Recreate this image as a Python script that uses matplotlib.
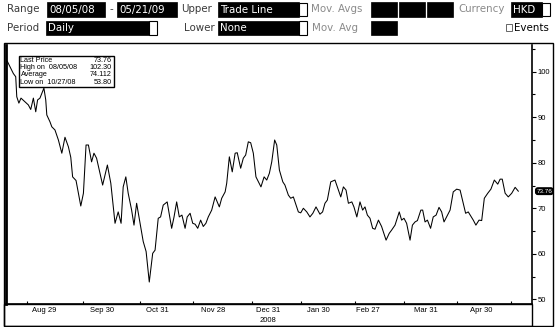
import matplotlib
matplotlib.use('Agg')
import matplotlib.pyplot as plt
from matplotlib.patches import Rectangle

W, H = 555, 327

# trading days after 08/05/08 and closing price (HKD)
day = [0.0, 2.3, 3.2, 3.6, 4.4, 5.2, 6.7, 8.0, 8.9, 9.9, 10.8, 11.5, 12.4, 13.9, 14.6,
       15.0, 16.2, 16.9, 18.1, 19.4, 20.7, 21.9, 23.2, 24.1, 24.8, 26.1, 27.0, 27.9,
       28.9, 29.9, 30.8, 32.0, 32.9, 33.9, 36.2, 38.0, 39.3, 40.9, 42.1, 43.2, 44.0,
       45.0, 45.9, 47.2, 48.1, 49.1, 50.4, 51.6, 52.7, 53.9, 55.2, 56.1, 57.3, 58.2,
       59.2, 60.7, 62.4, 63.3, 64.3, 65.3, 66.3, 67.5, 68.3, 69.4, 70.4, 71.3, 72.3,
       73.4, 74.4, 75.4, 76.3, 77.6, 78.9, 80.5, 81.4, 82.7, 83.3, 84.3, 85.4, 86.5,
       87.3, 88.6, 89.6, 90.5, 91.5, 92.4, 93.4, 94.4, 96.3, 97.5, 98.5, 99.5, 100.4,
       101.5, 102.3, 103.3, 104.6, 105.4, 106.7, 107.6, 108.6, 110.5, 111.4, 112.4,
       113.7, 114.9, 116.0, 117.2, 118.7, 119.7, 120.6, 121.5, 122.8, 124.4, 125.7,
       126.6, 127.6, 128.6, 129.5, 130.8, 131.6, 132.7, 133.9, 134.9, 135.8, 136.7,
       137.7, 138.7, 139.6, 140.9, 142.1, 143.8, 145.0, 145.9, 147.2, 148.8, 149.7,
       150.6, 151.6, 152.9, 153.8, 154.8, 155.7, 157.0, 157.7, 158.6, 159.5, 160.7,
       161.7, 162.8, 163.9, 164.9, 165.8, 167.1, 168.1, 169.3, 170.6, 171.9, 173.1,
       174.0, 175.0, 176.9, 177.9, 179.1, 180.1, 181.1, 182.4, 183.6, 184.9, 186.2,
       187.1, 187.9, 189.0, 190.2, 191.5, 192.8, 194.0]
price = [102.3, 99.6, 98.9, 94.5, 93.1, 94.2, 93.4, 92.7, 91.7, 94.2, 91.2, 93.8, 94.2,
         96.4, 93.8, 90.5, 89.0, 87.9, 87.2, 85.0, 82.1, 85.6, 83.5, 81.2, 76.9, 76.1,
         73.3, 70.5, 73.3, 83.9, 83.9, 80.2, 82.1, 81.0, 75.1, 79.5, 75.5, 66.7, 69.2,
         66.7, 74.7, 76.9, 73.3, 69.6, 66.3, 71.1, 66.7, 62.7, 60.5, 53.8, 60.1, 60.8,
         67.8, 68.1, 70.7, 71.4, 65.6, 68.1, 71.4, 68.1, 68.5, 65.6, 68.1, 68.9, 66.7,
         66.5, 65.6, 67.4, 66.0, 66.7, 68.1, 69.6, 72.5, 70.3, 72.2, 73.6, 75.5, 81.3,
         78.0, 82.1, 82.2, 78.8, 81.0, 81.7, 84.6, 84.4, 82.1, 76.9, 74.7, 76.9, 76.2,
         77.7, 80.2, 85.0, 83.9, 78.4, 75.8, 75.1, 72.9, 72.2, 72.5, 69.2, 69.0, 70.0,
         69.2, 68.1, 68.9, 70.3, 68.7, 69.2, 71.1, 71.8, 75.8, 76.2, 74.0, 72.5, 74.7,
         74.0, 71.1, 71.4, 70.3, 68.1, 71.4, 69.6, 70.3, 68.5, 67.8, 65.6, 65.4, 67.4,
         66.0, 63.0, 64.5, 65.2, 66.3, 69.2, 67.4, 67.8, 66.7, 63.0, 66.3, 67.0, 67.3,
         69.6, 69.6, 67.0, 67.4, 65.6, 68.1, 68.5, 70.2, 69.2, 67.0, 68.5, 69.6, 73.6,
         74.2, 74.0, 71.1, 68.9, 69.2, 67.4, 66.3, 67.4, 67.3, 72.2, 73.3, 74.2, 76.2,
         75.3, 76.4, 76.4, 73.3, 72.5, 73.3, 74.6, 73.76]

tick_days = [14, 36, 57, 78, 99, 118, 137, 159, 180]
tick_labels = ['Aug 29', 'Sep 30', 'Oct 31', 'Nov 28', 'Dec 31', 'Jan 30',
               'Feb 27', 'Mar 31', 'Apr 30']
minor_days = [7.5, 28.7, 50.4, 70.5, 92.9, 111.5, 132.0, 150.6, 170.7, 191.2]
y_ticks = [50, 60, 70, 80, 90, 100]
y_minor = [55, 65, 75, 85, 95, 105]
year_label = '2008'

stat_names = ['Last Price', 'High on  08/05/08', 'Average', 'Low on  10/27/08']
stat_values = ['73.76', '102.30', '74.112', '53.80']
last_price = 73.76

SMALL = 'Liberation Sans'
UI = 'DejaVu Sans'


def fx(x):
    return x / W


def fy(y):
    return 1 - y / H


fig = plt.figure(figsize=(W / 100, H / 100), dpi=100)
fig.patch.set_facecolor('white')


def frect(x0, y0, x1, y1, fc='none', ec='black', lw=1.0):
    r = Rectangle((fx(x0), fy(y1)), fx(x1) - fx(x0), fy(y0) - fy(y1),
                  transform=fig.transFigure, facecolor=fc, edgecolor=ec, lw=lw)
    fig.add_artist(r)


def label(x, y, s, color='#3a3a3a'):
    fig.text(fx(x), fy(y), s, fontsize=7.4, family=UI, color=color,
             ha='left', va='center')


def field(x0, x1, y0, y1, s='', drop=False):
    frect(x0, y0, x1, y1, fc='black', ec='black', lw=0.5)
    if s:
        fig.text(fx(x0 + 2), fy((y0 + y1) / 2 + 0.5), s, fontsize=7.4, family=UI,
                 color='white', ha='left', va='center')
    if drop:
        frect(x1, y0 + 0.5, x1 + 8, y1 - 0.5, fc='white', ec='black', lw=0.8)


# toolbar, row 1
label(7, 9.5, 'Range')
field(47, 105, 2, 16.5, '08/05/08')
label(109, 9.5, '-')
field(117, 177, 2, 16.5, '05/21/09')
label(181, 9.5, 'Upper')
field(218, 299, 2, 16.5, 'Trade Line', drop=True)
label(311, 9.5, 'Mov. Avgs', color='#8a8a8a')
field(371, 397, 2, 16.5)
field(399, 425, 2, 16.5)
field(427, 453, 2, 16.5)
label(458, 9.5, 'Currency', color='#8a8a8a')
field(511, 542, 2, 16.5, 'HKD', drop=True)

# toolbar, row 2
label(7, 28, 'Period')
field(46, 149, 20.5, 35, 'Daily', drop=True)
label(184, 28, 'Lower')
field(218, 299, 20.5, 35, 'None', drop=True)
label(312, 28, 'Mov. Avg', color='#8a8a8a')
field(371, 397, 20.5, 35)
frect(506, 24.5, 512, 31, fc='white', ec='#666666', lw=0.7)
fig.text(fx(514), fy(28), 'Events', fontsize=7.4, family=UI, color='black',
         ha='left', va='center')

# chart frame
frect(4, 43, 553, 326, lw=1.0)
frect(4, 304, 532, 326, lw=1.0)

ax = fig.add_axes([fx(6), fy(304), fx(532) - fx(6), fy(45) - fy(304)])
ax.plot(day, price, color='black', lw=0.75)
ax.set_xlim(-0.49, 199.2)
ax.set_ylim(48.97, 105.87)

for s in ['left', 'right', 'bottom']:
    ax.spines[s].set_linewidth(1.2)
ax.spines['top'].set_visible(False)
ax.spines['left'].set_linewidth(2)

ax.yaxis.tick_right()
ax.set_yticks(y_ticks)
ax.set_yticklabels([str(v) for v in y_ticks], fontsize=5.5, family=SMALL)
ax.set_yticks(y_minor, minor=True)
ax.tick_params(axis='y', which='major', direction='out', length=3, width=0.8, pad=1)
ax.tick_params(axis='y', which='minor', direction='out', length=2, width=0.8)

ax.set_xticks(minor_days)
ax.set_xticklabels([])
ax.tick_params(axis='x', which='major', direction='in', length=2, width=0.8)
for d, t in zip(tick_days, tick_labels):
    ax.text(d, -0.027, t, transform=ax.get_xaxis_transform(), fontsize=5.5,
            family=SMALL, ha='center', va='center')
ax.text(99, -0.062, year_label, transform=ax.get_xaxis_transform(), fontsize=5.5,
        family=SMALL, ha='center', va='center')

# last price badge
ax.annotate(f'{last_price:.2f}', xy=(1.0, last_price), xycoords=('axes fraction', 'data'),
            xytext=(1.0235, last_price), textcoords=('axes fraction', 'data'),
            fontsize=4.6, family=SMALL, color='white', ha='center', va='center',
            bbox=dict(boxstyle='round,pad=0.12,rounding_size=0.35', fc='black', ec='black'),
            annotation_clip=False)

# statistics box
frect(19, 56, 114, 86.5, fc='white', ec='black', lw=1.0)
for i, (n, v) in enumerate(zip(stat_names, stat_values)):
    yy = 60 + i * 7.4
    fig.text(fx(20.5), fy(yy), n, fontsize=5.2, family=SMALL, ha='left', va='center')
    fig.text(fx(112), fy(yy), v, fontsize=5.2, family=SMALL, ha='right', va='center')

fig.savefig('out.png', dpi=100)
